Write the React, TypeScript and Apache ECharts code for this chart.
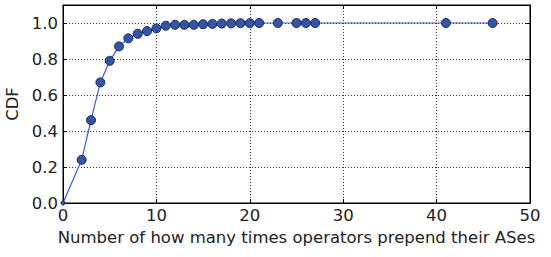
import React, { useEffect, useRef } from "react";
import * as echarts from "echarts";

const xValues = [0, 2, 3, 4, 5, 6, 7, 8, 9, 10, 11, 12, 13, 14, 15, 16, 17, 18, 19, 20, 21, 23, 25, 26, 27, 41, 46];
const cdfValues = [0, 0.24, 0.46, 0.67, 0.79, 0.87, 0.915, 0.94, 0.955, 0.97, 0.985, 0.99, 0.99, 0.99, 0.993, 0.995, 0.997, 0.998, 0.999, 0.999, 1.0, 1.0, 1.0, 1.0, 1.0, 1.0, 1.0];
const xTicks = [0, 10, 20, 30, 40, 50];
const yTicks = [0, 0.2, 0.4, 0.6, 0.8, 1.0];

const FONT = "DejaVu Sans";
const FS = 16.5;

export default function App() {
  const ref = useRef<HTMLDivElement>(null);
  useEffect(() => {
    if (!ref.current) return;
    const chart = echarts.init(ref.current, undefined, { renderer: "svg" });
    const tickStyle = { inside: true, length: 4, lineStyle: { color: "#000", width: 1 } };
    const split = { show: true, lineStyle: { color: "#333", type: [1, 2] as any, width: 1 } };
    chart.setOption({
      animation: false,
      backgroundColor: "#fff",
      grid: {
        left: 63,
        right: 21,
        top: 5,
        bottom: 54,
        containLabel: false,
        outerBoundsMode: "none",
        show: true,
        borderColor: "#000",
        borderWidth: 1,
        backgroundColor: "transparent",
      },
      xAxis: [
        {
          type: "value",
          min: 0,
          max: 50,
          interval: 10,
          position: "bottom",
          name: "Number of how many times operators prepend their ASes",
          nameLocation: "middle",
          nameGap: 25,
          nameTextStyle: { fontFamily: FONT, fontSize: FS, color: "#222" },
          axisLine: { show: true, onZero: false, lineStyle: { color: "#000", width: 1 } },
          axisTick: tickStyle,
          axisLabel: { fontFamily: FONT, fontSize: FS, color: "#222", margin: 4, formatter: (v: number) => (xTicks.includes(v) ? String(v) : "") },
          splitLine: split,
        },
        {
          type: "value",
          min: 0,
          max: 50,
          interval: 10,
          position: "top",
          axisLine: { show: true, onZero: false, lineStyle: { color: "#000", width: 1 } },
          axisTick: tickStyle,
          axisLabel: { show: false },
          splitLine: { show: false },
        },
      ],
      yAxis: [
        {
          type: "value",
          min: 0,
          max: 1.1,
          interval: 0.2,
          position: "left",
          name: "CDF",
          nameLocation: "middle",
          nameGap: 38,
          nameTextStyle: { fontFamily: FONT, fontSize: FS, color: "#222" },
          axisLine: { show: true, onZero: false, lineStyle: { color: "#000", width: 1 } },
          axisTick: tickStyle,
          axisLabel: {
            fontFamily: FONT,
            fontSize: FS,
            color: "#222",
            margin: 5,
            formatter: (v: number) => (yTicks.some((t) => Math.abs(t - v) < 1e-6) ? v.toFixed(1) : ""),
          },
          splitLine: split,
        },
        {
          type: "value",
          min: 0,
          max: 1.1,
          interval: 0.2,
          position: "right",
          axisLine: { show: true, onZero: false, lineStyle: { color: "#000", width: 1 } },
          axisTick: tickStyle,
          axisLabel: { show: false },
          splitLine: { show: false },
        },
      ],
      series: [
        {
          type: "line",
          xAxisIndex: 0,
          yAxisIndex: 0,
          data: xValues.map((x, i) => (i === 0 ? { value: [x, cdfValues[i]], symbolSize: 4 } : [x, cdfValues[i]])),
          symbol: "circle",
          symbolSize: 9,
          clip: false,
          lineStyle: { color: "#3d5fc4", width: 1.2 },
          itemStyle: { color: "#3454a8", borderColor: "#1b2a55", borderWidth: 1 },
        },
      ],
    });
    return () => chart.dispose();
  }, []);
  return <div ref={ref} style={{ width: 551, height: 257, position: "absolute", left: 0, top: 0 }} />;
}
